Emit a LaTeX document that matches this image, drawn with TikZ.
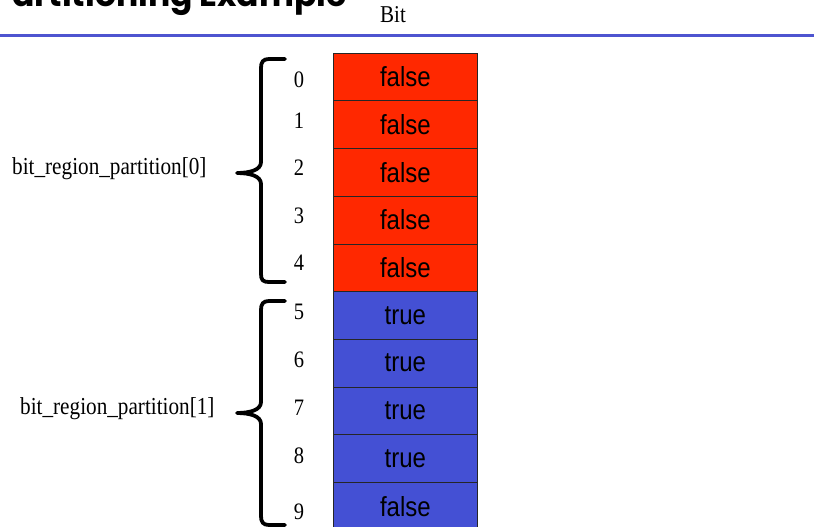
\documentclass[tikz,border=0pt]{standalone}
\usepackage{fontspec}
\setmainfont{Liberation Serif}
\newfontfamily\cellfont{Liberation Sans}
\newfontfamily\titlefont{Poppins}
\definecolor{cellred}{RGB}{255,40,0}
\definecolor{cellblue}{RGB}{68,80,212}
\definecolor{rulecol}{RGB}{78,84,208}
\newcommand{\vstr}[1]{\scalebox{1}[1.15]{#1}}
\begin{document}
\begin{tikzpicture}[x=1pt,y=-1pt,
  cell/.style={draw=black!85, line width=0.8pt, minimum width=144pt, minimum height=47.7pt, inner sep=0pt, font=\cellfont\fontsize{24}{24}\selectfont, anchor=north west},
  redcell/.style={cell, fill=cellred},
  bluecell/.style={cell, fill=cellblue},
  idx/.style={font=\fontsize{20.5}{20.5}\selectfont, inner sep=0pt},
  lbl/.style={font=\fontsize{21.2}{21.2}\selectfont, inner sep=0pt},
  bracestyle/.style={line width=3.8pt, line cap=round, line join=round}]
\useasboundingbox (0,0) rectangle (814,527);
\begin{scope}
\clip (0,0) rectangle (814,527);
% title (cut off at top, as in the reference)
\node[font=\titlefont\bfseries\fontsize{33}{33}\selectfont, anchor=base east, inner sep=0pt] (title) at (347,7) {Partitioning Example};
\node[font=\fontsize{21}{21}\selectfont, anchor=base, inner sep=0pt] (bit) at (393,23) {\vstr{Bit}};
\draw[rulecol, line width=3pt] (0,36) -- (814,36);
% cells
\foreach \i in {0,...,4} {
  \node[redcell] (c\i) at (333,52.7+47.7*\i) {\vstr{false}};
}
\foreach \i/\t in {5/true,6/true,7/true,8/true,9/false} {
  \node[bluecell] (c\i) at (333,52.7+47.7*\i) {\vstr{\t}};
}
% indices
\foreach \i/\y in {0/80,1/121,2/168,3/216,4/263,5/312,6/360,7/408,8/456,9/512} {
  \node[idx] (n\i) at (299,\y) {\vstr{\i}};
}
% braces
\draw[bracestyle] (285,59) -- (269,59) .. controls (263,59) and (261,62) .. (261,68)
  -- (261,162) .. controls (261,170) and (250,173) .. (237,173)
  .. controls (250,173) and (261,176) .. (261,184)
  -- (261,274) .. controls (261,280) and (263,282) .. (269,282) -- (285,282);
\draw[bracestyle] (285,301) -- (269,301) .. controls (263,301) and (261,304) .. (261,310)
  -- (261,402) .. controls (261,410) and (250,413) .. (237,413)
  .. controls (250,413) and (261,416) .. (261,424)
  -- (261,516) .. controls (261,522) and (263,525) .. (269,525) -- (285,525);
\node[lbl, anchor=west] (p0) at (12,169) {\vstr{bit\_region\_partition[0]}};
\node[lbl, anchor=west] (p1) at (20,409) {\vstr{bit\_region\_partition[1]}};
\end{scope}
\end{tikzpicture}
\end{document}
